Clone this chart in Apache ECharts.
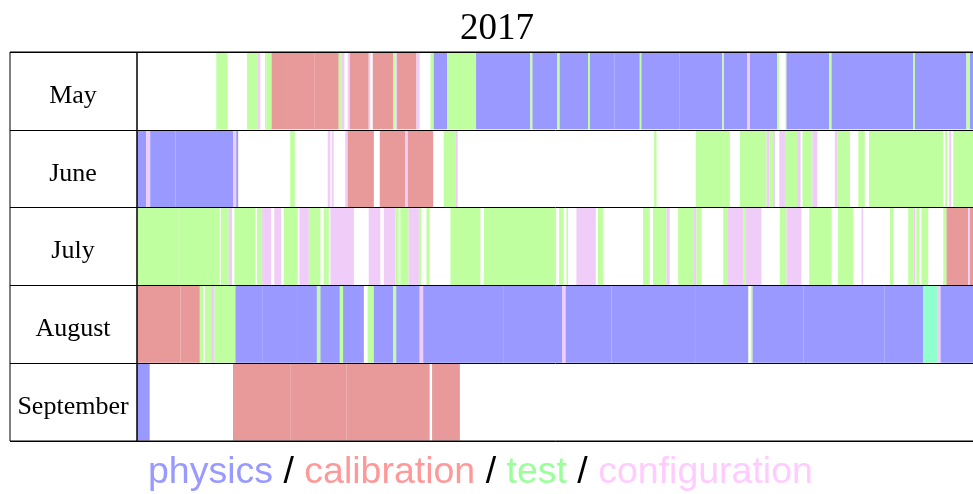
<!DOCTYPE html>
<html>
<head>
<meta charset="utf-8">
<script src="https://cdn.jsdelivr.net/npm/echarts@6/dist/echarts.min.js"></script>
<style>
html, body { margin: 0; padding: 0; background: #fff; }
#run_chart { width: 973px; height: 494px; }
</style>
</head>
<body>
<div id="run_chart"></div>
<script>
// months shown as rows, runs as [start day, end day, kind]
var months = ['May', 'June', 'July', 'August', 'September'];
var kindColors = { p: '#9999ff', c: '#e89999', t: '#bfff9f', f: '#f0ccf9', x: '#90ffcc' };

var mayRuns = [
    [2.94, 3.36, 't'], [4.08, 4.48, 't'], [4.48, 4.57, 'f'], [4.75, 4.79, 'f'], [4.79, 4.99, 't'],
    [4.99, 5.56, 'c'], [5.56, 6.57, 'c'], [6.57, 7.48, 'c'], [7.48, 7.60, 't'], [7.60, 7.69, 'f'],
    [7.81, 7.89, 'f'], [7.89, 8.59, 'c'], [8.59, 8.65, 'f'], [8.74, 9.49, 'c'], [9.49, 9.58, 't'],
    [9.58, 9.64, 'f'], [9.64, 10.36, 'c'], [10.36, 10.48, 'f'], [10.88, 11.00, 't'], [11.00, 11.50, 'p'],
    [11.50, 12.57, 't'], [12.57, 14.58, 'p'], [14.58, 14.66, 't'], [14.66, 15.57, 'p'], [15.57, 15.67, 't'],
    [15.67, 16.72, 'p'], [16.72, 16.79, 't'], [16.79, 17.71, 'p'], [17.71, 18.64, 'p'], [18.64, 18.70, 't'],
    [18.70, 20.12, 'p'], [20.12, 21.70, 'p'], [21.70, 21.76, 't'], [21.76, 22.63, 'p'], [22.63, 22.72, 'f'],
    [22.72, 23.73, 'p'], [23.73, 23.80, 't'], [24.04, 24.08, 't'], [24.08, 25.66, 'p'], [25.66, 25.75, 't'],
    [25.75, 28.78, 'p'], [28.78, 28.84, 't'], [28.84, 30.75, 'p'], [30.75, 30.88, 't'], [30.88, 31.4, 'p']
];
var juneRuns = [
    [0.00, 0.34, 'p'], [0.34, 0.49, 'f'], [0.49, 1.42, 'p'], [1.42, 3.56, 'p'], [3.56, 3.68, 'f'],
    [3.68, 3.75, 'p'], [5.68, 5.85, 't'], [7.07, 7.17, 'f'], [7.22, 7.29, 'f'], [7.72, 7.81, 'f'],
    [7.81, 8.78, 'c'], [9.00, 9.95, 'c'], [9.95, 10.04, 'f'], [10.04, 10.98, 'c'], [11.37, 11.80, 't'],
    [11.80, 11.89, 'f'], [19.17, 19.26, 't'], [20.72, 21.98, 't'], [22.35, 23.34, 't'], [23.34, 23.44, 'f'],
    [23.44, 23.58, 't'], [23.58, 23.65, 'f'], [23.81, 24.02, 'f'], [24.02, 24.47, 't'], [24.47, 24.60, 'f'],
    [24.67, 25.04, 't'], [25.04, 25.22, 'f'], [25.87, 25.96, 'f'], [25.96, 26.43, 't'], [26.74, 26.98, 't'],
    [27.14, 29.89, 't'], [29.96, 30.04, 't'], [30.11, 30.18, 'f'], [30.26, 31.4, 't']
];
var julyRuns = [
    [0.00, 1.55, 't'], [1.55, 2.60, 't'], [2.60, 3.07, 't'], [3.11, 3.40, 't'], [3.40, 3.52, 'f'],
    [3.61, 4.39, 't'], [4.45, 4.64, 't'], [4.64, 4.97, 'f'], [5.09, 5.34, 'f'], [5.44, 5.96, 't'],
    [6.02, 6.37, 'f'], [6.37, 6.80, 't'], [6.92, 7.11, 't'], [7.17, 8.04, 'f'], [8.59, 9.02, 'f'],
    [9.15, 9.58, 'f'], [9.58, 9.70, 't'], [9.76, 10.07, 't'], [10.07, 10.45, 'f'], [10.45, 10.53, 't'],
    [10.73, 10.85, 't'], [11.62, 12.73, 't'], [12.86, 15.53, 't'], [15.65, 15.82, 't'], [15.92, 15.98, 't'],
    [16.29, 17.01, 'f'], [17.09, 17.28, 't'], [18.76, 19.01, 't'], [19.13, 19.63, 't'], [19.63, 19.75, 'f'],
    [20.06, 20.62, 't'], [20.62, 20.74, 'f'], [20.74, 20.92, 't'], [21.73, 21.88, 't'], [21.88, 22.47, 'f'],
    [22.47, 22.57, 't'], [22.57, 23.15, 'f'], [23.83, 24.08, 't'], [24.08, 24.63, 'f'], [24.92, 25.75, 't'],
    [25.99, 26.55, 't'], [26.86, 26.92, 'f'], [27.91, 28.03, 't'], [28.59, 28.78, 't'], [28.78, 28.86, 'f'],
    [28.89, 29.00, 't'], [29.08, 29.33, 't'], [29.89, 30.01, 't'], [30.01, 30.81, 'c'], [30.81, 30.88, 'f'],
    [30.88, 31.4, 'c']
];
var augustRuns = [
    [0.00, 1.61, 'c'], [1.61, 2.33, 'c'], [2.33, 2.45, 't'], [2.52, 2.74, 't'], [2.74, 2.87, 'f'],
    [2.87, 3.65, 't'], [3.65, 4.64, 'p'], [4.64, 5.93, 'p'], [5.93, 6.67, 'p'], [6.67, 6.80, 't'],
    [6.80, 7.52, 'p'], [7.52, 7.64, 't'], [7.64, 8.41, 'p'], [8.55, 8.78, 't'], [8.78, 9.49, 'p'],
    [9.49, 9.61, 't'], [9.61, 10.48, 'p'], [10.48, 10.61, 'f'], [10.61, 13.60, 'p'], [13.60, 15.77, 'p'],
    [15.77, 15.89, 'f'], [15.89, 17.59, 'p'], [17.59, 20.72, 'p'], [20.72, 22.66, 'p'], [22.75, 22.82, 't'],
    [22.82, 24.70, 'p'], [24.70, 27.72, 'p'], [27.72, 29.15, 'p'], [29.15, 29.66, 'x'], [29.66, 29.79, 'f'],
    [29.79, 31.4, 'p']
];
var septemberRuns = [
    [0.00, 0.47, 'p'], [3.56, 5.68, 'c'], [5.68, 7.76, 'c'], [7.76, 10.85, 'c'], [10.94, 11.97, 'c']
];
var allRuns = [mayRuns, juneRuns, julyRuns, augustRuns, septemberRuns];

window.onload = function () {
    var myChart = echarts.init(document.getElementById('run_chart'));

    var runData = [];
    allRuns.forEach(function (runs, row) {
        runs.forEach(function (r) {
            runData.push({ value: [row, r[0], r[1]], itemStyle: { color: kindColors[r[2]] } });
        });
    });

    function renderRun(params, api) {
        var row = api.value(0);
        var a = api.coord([api.value(1), row]);
        var b = api.coord([api.value(2), row]);
        var h = api.size([0, 1])[1];
        var cs = params.coordSys;
        var shape = echarts.graphic.clipRectByRect(
            { x: a[0], y: a[1] - h / 2 + 0.5, width: b[0] - a[0], height: h - 1 },
            { x: cs.x, y: cs.y, width: cs.width, height: cs.height }
        );
        return shape && { type: 'rect', shape: shape, style: { fill: api.visual('color') } };
    }

    var option = {
        animation: false,
        title: {
            text: '2017',
            left: 492,
            top: 6,
            textAlign: 'center',
            textStyle: { fontFamily: 'Liberation Serif', fontSize: 37, fontWeight: 'normal', color: '#000' }
        },
        grid: [
            { left: 10, top: 52, width: 127, bottom: 53, show: true, borderColor: '#000', borderWidth: 1, z: 3,
              outerBoundsMode: 'none' },
            // the table runs past the right edge of the picture
            { left: 137, top: 52, width: 847, bottom: 53, show: true, borderColor: '#000', borderWidth: 1, z: 3,
              outerBoundsMode: 'none' }
        ],
        xAxis: [
            { gridIndex: 0, type: 'value', show: false, min: 0, max: 1 },
            { gridIndex: 1, type: 'value', show: false, min: 0, max: 31.4 }
        ],
        yAxis: [
            {
                gridIndex: 0, type: 'category', inverse: true, data: months, z: 3,
                axisLine: { show: false }, axisTick: { show: false },
                splitLine: { show: true, interval: 0, lineStyle: { color: '#000', width: 1 } },
                axisLabel: {
                    inside: true, margin: 63, align: 'center', interval: 0,
                    verticalAlign: 'middle',
                    formatter: '{m|{value}}',
                    rich: { m: { fontFamily: 'Liberation Serif', fontSize: 26, color: '#000', padding: [10, 0, 0, 0] } }
                }
            },
            {
                gridIndex: 1, type: 'category', inverse: true, data: months, z: 3,
                axisLine: { show: false }, axisTick: { show: false }, axisLabel: { show: false },
                splitLine: { show: true, interval: 0, lineStyle: { color: '#000', width: 1 } }
            }
        ],
        graphic: [{
            type: 'text',
            left: 148,
            top: 454,
            style: {
                text: '{p|physics} {s|/} {c|calibration} {s|/} {t|test} {s|/} {f|configuration}',
                font: '37.5px "Liberation Sans"',
                rich: {
                    p: { fontFamily: 'Liberation Sans', fontSize: 37.5, fill: '#9999ff' },
                    c: { fontFamily: 'Liberation Sans', fontSize: 37.5, fill: '#ff9999' },
                    t: { fontFamily: 'Liberation Sans', fontSize: 37.5, fill: '#99ff99' },
                    f: { fontFamily: 'Liberation Sans', fontSize: 37.5, fill: '#ffccff' },
                    s: { fontFamily: 'Liberation Sans', fontSize: 37.5, fill: '#000' }
                }
            }
        }],
        series: [{
            type: 'custom',
            xAxisIndex: 1,
            yAxisIndex: 1,
            renderItem: renderRun,
            encode: { x: [1, 2], y: 0 },
            data: runData
        }]
    };
    myChart.setOption(option);
};
</script>
</body>
</html>
